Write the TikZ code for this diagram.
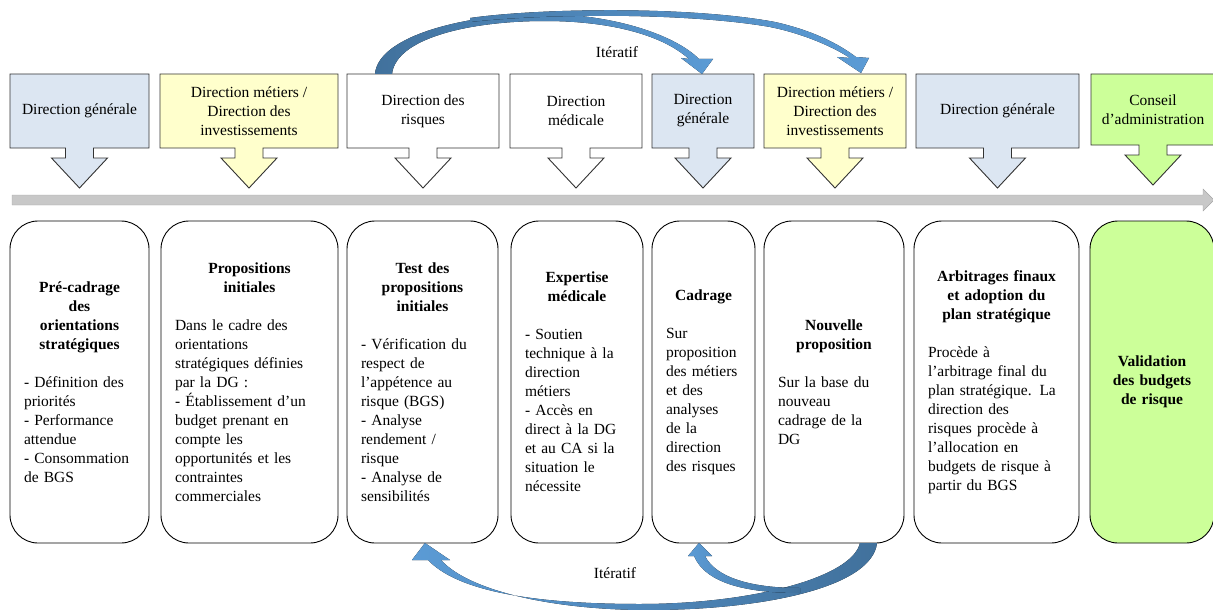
\documentclass[tikz,border=0pt]{standalone}
\usepackage{fontspec}
\setmainfont{Liberation Serif}
\definecolor{bleuclair}{HTML}{DCE6F2}
\definecolor{jauneclair}{HTML}{FFFFCC}
\definecolor{vertclair}{HTML}{CCFF99}
\definecolor{flechefonce}{HTML}{41719C}
\definecolor{flecheclair}{HTML}{5B9BD5}
\definecolor{gristrait}{HTML}{C8C8C8}
% boite d'acteur avec fleche vers le bas : nom, gauche, droite, bas, couleur, texte
\newcommand{\acteur}[6]{%
  \draw[line width=0.9pt, draw=black!80, fill=#5] (#2,74) -- (#3,74) -- (#3,#4)
    -- ({(#2+#3)/2+14},#4) -- ({(#2+#3)/2+14},{#4+10}) -- ({(#2+#3)/2+28},{#4+10})
    -- ({(#2+#3)/2},{#4+40}) -- ({(#2+#3)/2-28},{#4+10}) -- ({(#2+#3)/2-14},{#4+10})
    -- ({(#2+#3)/2-14},#4) -- (#2,#4) -- cycle;
  \node[acteurtxt] (#1) at ({(#2+#3)/2},{(74+#4)/2}) {#6};}
\newcommand{\titre}[1]{{\centering\textbf{#1}\par}\vspace{19pt}\noindent}

\begin{document}
\begin{tikzpicture}[x=1pt,y=-1pt,
    acteurtxt/.style={align=center, font=\fontsize{15.5}{19}\selectfont},
    phase/.style={draw, line width=0.9pt, rounded corners=28, minimum height=322,
      inner xsep=14, align=left, font=\fontsize{15.5}{19}\selectfont}]
  \useasboundingbox (0,0) rectangle (1213,610);

  % axe du temps
  \draw[draw=gray!70, fill=gristrait] (12,195) -- (1203,195) -- (1203,189) -- (1214,200)
    -- (1203,211) -- (1203,205) -- (12,205) -- cycle;

  % acteurs
  \acteur{dg1}{10}{149}{148}{bleuclair}{Direction générale}
  \acteur{dm1}{160}{338}{148}{jauneclair}{Direction métiers /\\Direction des\\investissements}
  \acteur{dr}{347}{499}{148}{white}{Direction des\\risques}
  \acteur{dmed}{510}{642}{148}{white}{Direction\\médicale}
  \acteur{dg2}{652}{754}{148}{bleuclair}{Direction\\générale}
  \acteur{dm2}{764}{906}{148}{jauneclair}{Direction métiers /\\Direction des\\investissements}
  \acteur{dg3}{916}{1079}{148}{bleuclair}{Direction générale}
  \acteur{ca}{1091}{1215}{145}{vertclair}{Conseil\\d’administration}

  % etapes
  \node[phase, minimum width=139, text width=111] (precadrage) at (79.5,382)
    {\titre{Pré-cadrage\\des\\orientations\\stratégiques}- Définition des\\priorités\\- Performance\\attendue\\- Consommation\\de BGS};
  \node[phase, minimum width=177, text width=149] (propinit) at (249.5,382)
    {\titre{Propositions\\initiales}Dans le cadre des\\orientations\\stratégiques définies\\par la DG :\\- Établissement d’un\\budget prenant en\\compte les\\opportunités et les\\contraintes\\commerciales};
  \node[phase, minimum width=151, text width=123] (test) at (422.5,382)
    {\titre{Test des\\propositions\\initiales}- Vérification du\\respect de\\l’appétence au\\risque (BGS)\\- Analyse\\rendement /\\risque\\- Analyse de\\sensibilités};
  \node[phase, minimum width=132, text width=104] (expertise) at (577,382)
    {\titre{Expertise\\médicale}- Soutien\\technique à la\\direction\\métiers\\- Accès en\\direct à la DG\\et au CA si la\\situation le\\nécessite};
  \node[phase, minimum width=103, text width=75] (cadrage) at (703.5,382)
    {\titre{Cadrage}Sur\\proposition\\des métiers\\et des\\analyses\\de la\\direction\\des risques};
  \node[phase, minimum width=140, text width=112] (nouvprop) at (834,382)
    {\titre{Nouvelle\\proposition}Sur la base du\\nouveau\\cadrage de la\\DG};
  \node[phase, minimum width=165, text width=137] (arbitrage) at (996.5,382)
    {\titre{Arbitrages finaux\\et adoption du\\plan stratégique}Procède à\\l’arbitrage final du\\plan stratégique. La\\direction des\\risques procède à\\l’allocation en\\budgets de risque à\\partir du BGS};
  \node[phase, fill=vertclair, minimum width=124, text width=96, align=center] (validation) at (1152,382)
    {\textbf{Validation\\des budgets\\de risque}};

  % fleches iteratives du haut
  \fill[left color=flechefonce, right color=flecheclair] (375,74) .. controls (378,35) and (470,13) .. (548,14)
    .. controls (615,15) and (675,35) .. (699,59) -- (713,59) -- (702,74) -- (681,58) -- (689,59)
    .. controls (660,33) and (605,21) .. (545,21) .. controls (470,21) and (396,38) .. (392,74) -- cycle;
  \fill[left color=flechefonce!70!flecheclair, right color=flecheclair] (470,18) .. controls (540,8) and (690,6) .. (775,22)
    .. controls (815,31) and (840,45) .. (856,57) -- (869,58) -- (861,73) -- (837,57) -- (850,58)
    .. controls (835,48) and (805,34) .. (770,27) .. controls (690,13) and (550,13) .. (470,22) -- cycle;
  \node[acteurtxt] (iterhaut) at (617,52) {Itératif};

  % fleches iteratives du bas
  \fill[left color=flecheclair, right color=flechefonce] (877,543) .. controls (872,588) and (760,611) .. (640,610)
    .. controls (555,609) and (470,592) .. (441,560) -- (450,560) -- (425,543) -- (412,560) -- (428,560)
    .. controls (462,596) and (555,604) .. (640,604) .. controls (750,604) and (852,578) .. (860,543) -- cycle;
  \fill[left color=flecheclair, right color=flechefonce] (705,556) .. controls (716,578) and (752,588) .. (800,588)
    -- (800,593) .. controls (748,593) and (706,584) .. (694,556) -- (688,556) -- (699,543) -- (712,556) -- cycle;
  \node[acteurtxt] (iterbas) at (615,573) {Itératif};
\end{tikzpicture}
\end{document}
